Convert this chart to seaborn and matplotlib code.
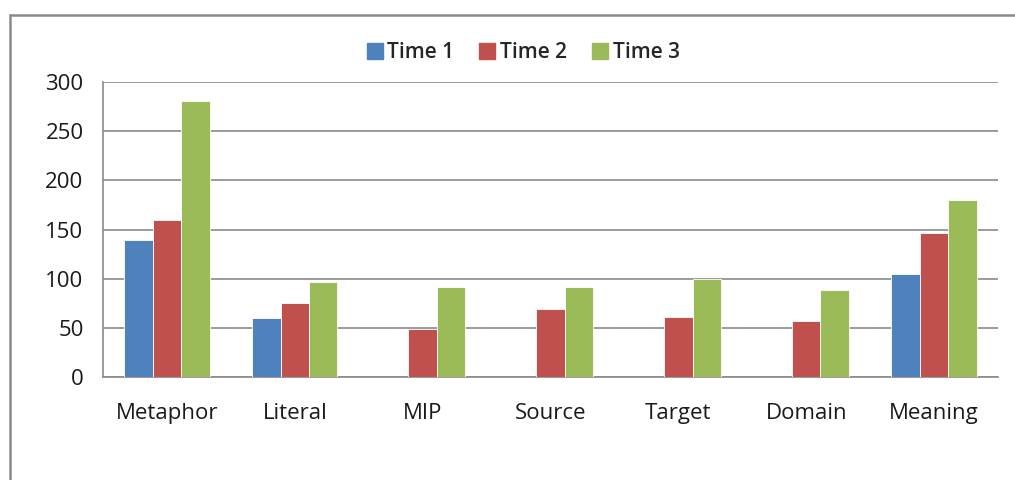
import numpy as np
import pandas as pd
import matplotlib
matplotlib.use("Agg")
import matplotlib.pyplot as plt
from matplotlib.lines import Line2D
from matplotlib.ticker import FixedLocator
import seaborn as sns

categories = ["Metaphor", "Literal", "MIP", "Source", "Target", "Domain", "Meaning"]
time1 = [139, 60, np.nan, np.nan, np.nan, np.nan, 105]
time2 = [160, 75, 49, 69, 61, 57, 146]
time3 = [281, 97, 92, 92, 100, 88, 180]
series_names = ["Time 1", "Time 2", "Time 3"]
colors = ["#4F81BD", "#C0504D", "#9BBB59"]
yticks = [0, 50, 100, 150, 200, 250, 300]

df = pd.DataFrame({
    "Category": categories * 3,
    "Time": sum([[s] * len(categories) for s in series_names], []),
    "Count": time1 + time2 + time3,
})

sns.set_style("white")
plt.rcParams["font.family"] = ["Open Sans", "DejaVu Sans"]

W, H = 1015, 480
fig = plt.figure(figsize=(W / 100, H / 100), dpi=100)
ax = fig.add_axes([103 / W, (H - 377) / H, 895 / W, 295 / H])

sns.barplot(data=df, x="Category", y="Count", hue="Time", order=categories,
            hue_order=series_names, palette=colors, width=2 / 3, gap=0,
            edgecolor="#ffffff", linewidth=0.6, saturation=1, ax=ax,
            errorbar=None, zorder=3, legend=False)

ax.set_xlim(-0.5, len(categories) - 0.5)
ax.set_ylim(0, 300)
ax.set_yticks(yticks)
ax.set_yticklabels([str(v) for v in yticks])
ax.yaxis.grid(True, color="#8a8a8a", linewidth=1.2, zorder=0)
ax.set_axisbelow(True)
ax.set_xlabel("")
ax.set_ylabel("")

for s in ["top", "right"]:
    ax.spines[s].set_visible(False)
for s in ["left", "bottom"]:
    ax.spines[s].set_color("#8a8a8a")
    ax.spines[s].set_linewidth(1.2)

ax.xaxis.set_minor_locator(FixedLocator(np.arange(-0.5, len(categories), 1.0)))
ax.tick_params(axis="x", which="major", length=0, pad=19, labelsize=16, labelcolor="#1a1a1a")
ax.tick_params(axis="x", which="minor", length=5, width=1.2, color="#8a8a8a", direction="out")
ax.tick_params(axis="y", which="major", length=5, width=1.2, color="#8a8a8a", direction="out",
               pad=9, labelsize=16, labelcolor="#1a1a1a")

handles = [Line2D([0], [0], marker="s", linestyle="", markersize=11,
                  markerfacecolor=c, markeredgecolor=c) for c in colors]
fig.legend(handles, series_names, loc="center", bbox_to_anchor=(523 / W, (H - 53) / H),
           ncol=3, frameon=False, handletextpad=0.2, columnspacing=1.2,
           handlelength=0.8, prop={"size": 15, "weight": "semibold"})

# chart frame
fig.add_artist(Line2D([10 / W, 10 / W], [0, (H - 15) / H], color="#8a8a8a", linewidth=1.8,
                      transform=fig.transFigure))
fig.add_artist(Line2D([10 / W, 1], [(H - 15) / H, (H - 15) / H], color="#8a8a8a", linewidth=1.8,
                      transform=fig.transFigure))

fig.savefig("out.png", dpi=100)
